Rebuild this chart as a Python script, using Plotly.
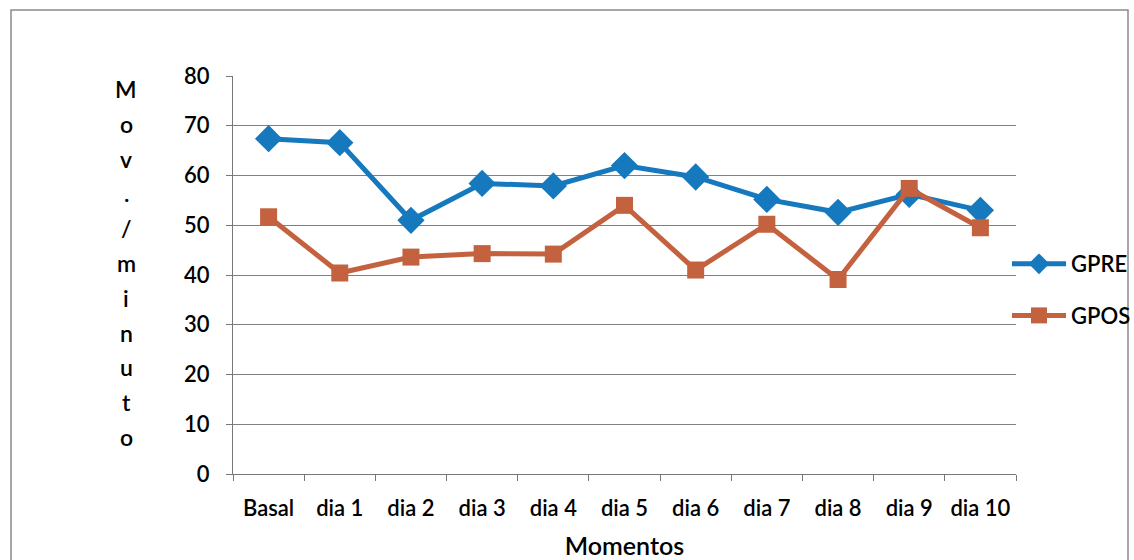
import plotly.graph_objects as go

momentos = ["Basal", "dia 1", "dia 2", "dia 3", "dia 4", "dia 5",
            "dia 6", "dia 7", "dia 8", "dia 9", "dia 10"]
gpre = [67.4, 66.6, 51.0, 58.4, 57.9, 62.0, 59.7, 55.2, 52.6, 56.2, 53.0]
gpos = [51.7, 40.4, 43.6, 44.3, 44.2, 54.0, 41.0, 50.2, 39.1, 57.4, 49.5]
y_ticks = [0, 10, 20, 30, 40, 50, 60, 70, 80]
y_title = "Mov./minuto"

FONT = "Lato, Open Sans, sans-serif"
INK = "#000000"
W, H = 1134, 560
L, R, T, B = 233, 118, 76, 86
plot_w, plot_h = W - L - R, H - T - B


def px_x(px):
    return (px - L) / plot_w


def px_y(py):
    return (H - B - py) / plot_h


fig = go.Figure()
fig.add_trace(go.Scatter(
    x=momentos, y=gpre, name="GPRE", mode="lines+markers",
    line=dict(color="#1679BD", width=5),
    marker=dict(symbol="diamond", size=21, color="#1679BD"),
    legendgroup="a",
))
fig.add_trace(go.Scatter(
    x=momentos, y=gpos, name="GPOS", mode="lines+markers",
    line=dict(color="#C4623F", width=5),
    marker=dict(symbol="square", size=17, color="#C4623F"),
    legendgroup="b",
))

# stacked vertical axis title, one character per row
for i, ch in enumerate(y_title):
    fig.add_annotation(
        x=px_x(126), y=px_y(89 + i * 34.8), xref="paper", yref="paper",
        text=ch, showarrow=False, xanchor="center", yanchor="middle",
        font=dict(family=FONT, size=23, color=INK, weight=600),
    )

# outer frame around the chart
fig.add_shape(type="rect", xref="paper", yref="paper",
              x0=px_x(11), x1=px_x(1128), y0=px_y(585), y1=px_y(10),
              line=dict(color="#8a8a8a", width=1.5), layer="below")

fig.update_layout(
    width=W, height=H,
    margin=dict(l=L, r=R, t=T, b=B, autoexpand=False),
    paper_bgcolor="white", plot_bgcolor="white",
    font=dict(family=FONT, size=22, color=INK),
    showlegend=True,
    legend=dict(xref="container", yref="container",
                x=1007 / W, xanchor="left", y=1 - 290 / H, yanchor="middle",
                tracegroupgap=20, itemwidth=54,
                font=dict(family=FONT, size=22, color=INK, weight=600),
                bgcolor="rgba(0,0,0,0)"),
    xaxis=dict(
        title=dict(text="Momentos", font=dict(family=FONT, size=25, weight=600),
                   standoff=19),
        type="category", tickson="boundaries", ticks="outside", ticklen=6,
        tickcolor="#777777", showline=True, linecolor="#777777", linewidth=1.2,
        showgrid=False, range=[-0.5, 10.5], ticklabelstandoff=14,
        tickangle=0, automargin=False,
        tickfont=dict(family=FONT, size=22, weight=600),
    ),
    yaxis=dict(
        range=[0, 80], tickvals=y_ticks, ticks="outside", ticklen=6,
        tickcolor="#777777", showline=True, linecolor="#777777", linewidth=1.2,
        showgrid=True, gridcolor="#808080", gridwidth=1.2, zeroline=False,
        automargin=False,
        ticklabelstandoff=12, tickfont=dict(family=FONT, size=22, weight=600),
    ),
)

fig.write_html("out.html")
